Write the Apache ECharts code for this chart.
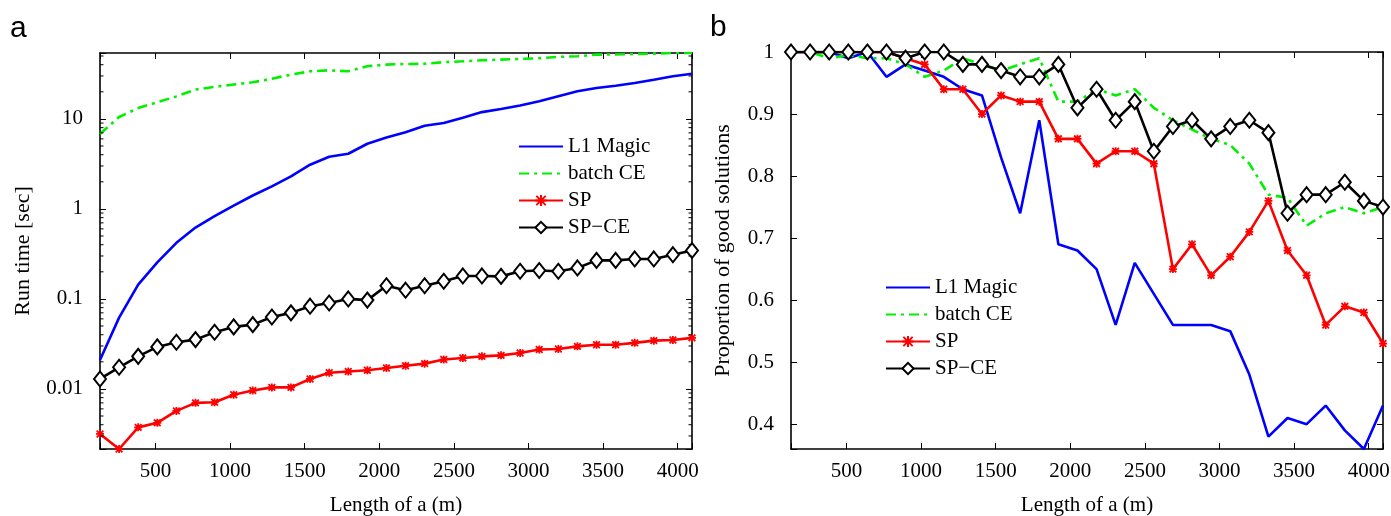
<!DOCTYPE html>
<html>
<head>
<meta charset="utf-8">
<script src="https://cdn.jsdelivr.net/npm/echarts@6/dist/echarts.min.js"></script>
<style>
html,body{margin:0;padding:0;background:#fff;}
#chart{width:1391px;height:516px;}
</style>
</head>
<body>
<div id="chart"></div>
<script>
// ---- data ----
const lengthA = [128, 256, 384, 512, 640, 768, 896, 1024, 1152, 1280, 1408, 1536, 1664, 1792, 1920, 2048,
                 2176, 2304, 2432, 2560, 2688, 2816, 2944, 3072, 3200, 3328, 3456, 3584, 3712, 3840, 3968, 4096];

// panel a: run time [sec]
const runL1Magic = [0.021, 0.062, 0.144, 0.255, 0.42, 0.62, 0.83, 1.09, 1.41, 1.78, 2.3, 3.1, 3.8, 4.1, 5.3, 6.2,
                    7.1, 8.4, 9.0, 10.3, 11.9, 12.9, 14.1, 15.7, 17.9, 20.3, 22.1, 23.4, 25.1, 27.3, 29.8, 31.8];
const runBatchCE = [6.8, 10.5, 13.2, 15.3, 17.8, 21.2, 22.7, 24.1, 25.5, 28, 31, 33.8, 34.7, 33.8, 38.5, 40.1,
                    40.8, 41, 42.7, 43.7, 44.8, 45.6, 46.4, 47.2, 48.9, 49.7, 51.8, 52, 52.7, 53.2, 54, 54];
const runSP = [0.00316, 0.00215, 0.00374, 0.0042, 0.0057, 0.0070, 0.0071, 0.0086, 0.0096, 0.0104, 0.0104, 0.0129, 0.0151, 0.0156, 0.0161, 0.0171,
               0.0181, 0.0191, 0.0212, 0.0221, 0.023, 0.0236, 0.0251, 0.0274, 0.0278, 0.0297, 0.031, 0.031, 0.0325, 0.0344, 0.035, 0.0369];
const runSPCE = [0.0129, 0.0174, 0.023, 0.0293, 0.033, 0.0353, 0.0426, 0.0489, 0.0518, 0.063, 0.070, 0.083, 0.090, 0.10, 0.097, 0.14,
                 0.125, 0.14, 0.157, 0.18, 0.18, 0.178, 0.203, 0.207, 0.203, 0.221, 0.268, 0.268, 0.278, 0.278, 0.31, 0.345];

// panel b: proportion of good solutions
const propL1Magic = [1, 1, 1, 0.99, 1, 0.96, 0.98, 0.97, 0.96, 0.94, 0.93, 0.83, 0.74, 0.89, 0.69, 0.68,
                     0.65, 0.56, 0.66, 0.61, 0.56, 0.56, 0.56, 0.55, 0.48, 0.38, 0.41, 0.40, 0.43, 0.39, 0.36, 0.43];
const propBatchCE = [1, 1, 0.99, 0.995, 0.99, 0.99, 0.98, 0.96, 0.97, 0.99, 0.98, 0.97, 0.98, 0.99, 0.92, 0.92,
                     0.94, 0.93, 0.94, 0.91, 0.89, 0.875, 0.86, 0.85, 0.82, 0.77, 0.765, 0.72, 0.74, 0.75, 0.74, 0.75];
const propSP = [1, 1, 1, 1, 1, 1, 0.99, 0.98, 0.94, 0.94, 0.90, 0.93, 0.92, 0.92, 0.86, 0.86,
                0.82, 0.84, 0.84, 0.82, 0.65, 0.69, 0.64, 0.67, 0.71, 0.76, 0.68, 0.64, 0.56, 0.59, 0.58, 0.53];
const propSPCE = [1, 1, 1, 1, 1, 1, 0.99, 1, 1, 0.98, 0.98, 0.97, 0.96, 0.96, 0.98, 0.91,
                  0.94, 0.89, 0.92, 0.84, 0.88, 0.89, 0.86, 0.88, 0.89, 0.87, 0.74, 0.77, 0.77, 0.79, 0.76, 0.75];

const seriesNames = ['L1 Magic', 'batch CE', 'SP', 'SP\u2212CE'];
const logMinorTicks = [0.003, 0.004, 0.005, 0.006, 0.007, 0.008, 0.009,
                       0.02, 0.03, 0.04, 0.05, 0.06, 0.07, 0.08, 0.09,
                       0.2, 0.3, 0.4, 0.5, 0.6, 0.7, 0.8, 0.9,
                       2, 3, 4, 5, 6, 7, 8, 9, 20, 30, 40, 50];

// ---- styling ----
const SERIF = 'Liberation Serif';
const FS = 21;
const xMin = 128, xMax = 4096;
const runMin = 0.00215, runMax = 54;
const propMin = 0.36, propMax = 1;

function pairs(ys){ return lengthA.map((x,i)=>[x, ys[i]]); }
const asterisk = 'path://M0,0L10,10M10,0L0,10M5,-1L5,11M-1,5L11,5';

const styles = [
  {color:'#0000ff', line:{width:2.6, type:'solid'}, symbol:'none'},
  {color:'#00f000', line:{width:2.6, type:[10,5,3,5]}, symbol:'none'},
  {color:'#ff0000', line:{width:2.6, type:'solid'}, symbol:asterisk, size:8,
   item:{color:'#ff0000', borderColor:'#ff0000', borderWidth:1.8}},
  {color:'#000000', line:{width:2.6, type:'solid'}, symbol:'diamond', size:[12,15],
   item:{color:'#ffffff', borderColor:'#000000', borderWidth:2}}
];

function mkSeries(name, idx, data, xi, yi){
  const s = styles[idx];
  return {
    name: name, type:'line', xAxisIndex: xi, yAxisIndex: yi,
    data: pairs(data), animation:false,
    lineStyle:{color:s.color, width:s.line.width, type:s.line.type},
    itemStyle: s.item ? s.item : {color:s.color},
    symbol: s.symbol === 'none' ? 'circle' : s.symbol,
    showSymbol: s.symbol !== 'none',
    symbolSize: s.size || 4,
    z: 2 + idx
  };
}

const legendData = seriesNames.map((n, i) =>
  styles[i].symbol === 'none' ? {name:n, itemStyle:{opacity:0}} : {name:n});

const tickStyle = {show:true, inside:true, length:6, lineStyle:{color:'#000', width:1}};
const lineStyle = {show:true, lineStyle:{color:'#000', width:1.6}};
const labelFont = {fontFamily:SERIF, fontSize:FS, color:'#000'};
const nameFont = {fontFamily:SERIF, fontSize:22, color:'#000'};

function xLabel(v){ return (v % 500 === 0) ? String(v) : ''; }
function logLabel(v){
  const k = Math.log10(v), r = Math.round(k);
  if (Math.abs(k - r) > 1e-6) return '';
  return String(Number(Math.pow(10, r).toPrecision(1)));
}
function propLabel(v){
  const r = Math.round(v * 10) / 10;
  if (Math.abs(v - r) > 1e-6) return '';
  return String(r);
}

function xAxes(grid){
  return [
    {type:'value', gridIndex:grid, min:xMin, max:xMax, splitNumber:8, position:'bottom',
     name:'Length of a (m)', nameLocation:'middle', nameGap:46,
     nameTextStyle:{fontFamily:SERIF, fontSize:FS, color:'#000'},
     axisLine:lineStyle, axisTick:tickStyle, splitLine:{show:false},
     axisLabel:Object.assign({margin:12, formatter:xLabel}, labelFont)},
    {type:'value', gridIndex:grid, min:xMin, max:xMax, splitNumber:8, position:'top',
     axisLine:lineStyle, axisTick:tickStyle, splitLine:{show:false}, axisLabel:{show:false}}
  ];
}

const option = {
  backgroundColor:'#fff',
  animation:false,
  title:[
    {text:'a', left:5, top:9, textStyle:{fontFamily:'Liberation Sans', fontSize:30, fontWeight:'normal', color:'#000'}},
    {text:'b', left:705, top:8, textStyle:{fontFamily:'Liberation Sans', fontSize:30, fontWeight:'normal', color:'#000'}}
  ],
  grid:[
    {left:100, top:53, width:592, height:396, outerBoundsMode:'none', containLabel:false},
    {left:791, top:52, width:592, height:397, outerBoundsMode:'none', containLabel:false}
  ],
  legend:[
    {data:legendData, orient:'vertical', left:513, top:131, itemWidth:44, itemHeight:14, itemGap:6,
     textStyle:labelFont, selectedMode:false},
    {data:legendData, orient:'vertical', left:880, top:272, itemWidth:44, itemHeight:14, itemGap:6,
     textStyle:labelFont, selectedMode:false}
  ],
  xAxis: xAxes(0).concat(xAxes(1)),
  yAxis:[
    {type:'log', logBase:10, gridIndex:0, min:runMin, max:runMax, position:'left',
     name:'Run time [sec]', nameLocation:'middle', nameGap:66,
     nameTextStyle:nameFont,
     axisLine:lineStyle, axisTick:tickStyle, splitLine:{show:false},
     axisLabel:Object.assign({margin:17, formatter:logLabel}, labelFont)},
    {type:'log', logBase:10, gridIndex:0, min:runMin, max:runMax, position:'right',
     axisLine:lineStyle, axisTick:tickStyle, splitLine:{show:false}, axisLabel:{show:false}},
    {type:'value', gridIndex:1, min:propMin, max:propMax, splitNumber:6, position:'left',
     name:'Proportion of good solutions', nameLocation:'middle', nameGap:57,
     nameTextStyle:nameFont,
     axisLine:lineStyle, axisTick:tickStyle, splitLine:{show:false},
     axisLabel:Object.assign({margin:17, formatter:propLabel}, labelFont)},
    {type:'value', gridIndex:1, min:propMin, max:propMax, splitNumber:6, position:'right',
     axisLine:lineStyle, axisTick:tickStyle, splitLine:{show:false}, axisLabel:{show:false}}
  ],
  series:[
    mkSeries(seriesNames[0], 0, runL1Magic, 0, 0),
    mkSeries(seriesNames[1], 1, runBatchCE, 0, 0),
    mkSeries(seriesNames[2], 2, runSP, 0, 0),
    mkSeries(seriesNames[3], 3, runSPCE, 0, 0),
    mkSeries(seriesNames[0], 0, propL1Magic, 2, 2),
    mkSeries(seriesNames[1], 1, propBatchCE, 2, 2),
    mkSeries(seriesNames[2], 2, propSP, 2, 2),
    mkSeries(seriesNames[3], 3, propSPCE, 2, 2),
    {
      type:'custom', name:'minorTicks', xAxisIndex:0, yAxisIndex:0, silent:true, animation:false, z:10,
      data: logMinorTicks.map(v => [xMin, v]),
      renderItem: function(params, api){
        const v = api.value(1);
        const pL = api.coord([xMin, v]);
        const pR = api.coord([xMax, v]);
        return {type:'group', children:[
          {type:'line', shape:{x1:pL[0], y1:pL[1], x2:pL[0]+3.5, y2:pL[1]}, style:{stroke:'#000', lineWidth:1}},
          {type:'line', shape:{x1:pR[0], y1:pR[1], x2:pR[0]-3.5, y2:pR[1]}, style:{stroke:'#000', lineWidth:1}}
        ]};
      }
    }
  ]
};

const chart = echarts.init(document.getElementById('chart'), null, {renderer:'canvas'});
chart.setOption(option);
</script>
</body>
</html>
